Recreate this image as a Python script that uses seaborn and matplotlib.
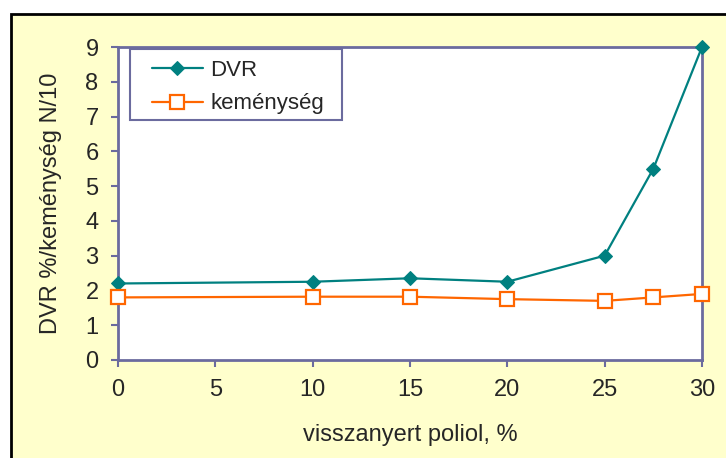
import numpy as np
import pandas as pd
import matplotlib
matplotlib.use("Agg")
import matplotlib.pyplot as plt
import matplotlib.patches as mpatches
import seaborn as sns

sns.set_style("white")
plt.rcParams["font.family"] = ["Liberation Sans", "DejaVu Sans"]

# data
poliol = [0, 10, 15, 20, 25, 27.5, 30]
dvr = [2.2, 2.25, 2.35, 2.25, 3.0, 5.5, 9.0]
kemenyseg = [1.8, 1.82, 1.82, 1.75, 1.7, 1.8, 1.9]
xticks = [0, 5, 10, 15, 20, 25, 30]
yticks = [0, 1, 2, 3, 4, 5, 6, 7, 8, 9]

axis_col = "#6B6B9E"
teal = "#008080"
orange = "#FF6600"

fig = plt.figure(figsize=(7.26, 4.58), dpi=100)
fig.patch.set_facecolor("white")
frame = mpatches.Rectangle((11 / 726, -0.05), 1.1, 1 - 14 / 458 + 0.05,
                           transform=fig.transFigure, facecolor="#FFFFCC",
                           edgecolor="black", linewidth=2, zorder=-10)
fig.add_artist(frame)

ax = fig.add_axes([118 / 726, 1 - 360 / 458, 584 / 726, 313 / 458])
ax.set_facecolor("white")

df = pd.DataFrame({"x": poliol, "DVR": dvr, "keménység": kemenyseg})
sns.lineplot(data=df, x="x", y="DVR", ax=ax, color=teal, marker="D",
             markersize=7, markeredgecolor=teal, linewidth=1.6, label="DVR",
             clip_on=False, zorder=3)
sns.lineplot(data=df, x="x", y="keménység", ax=ax, color=orange, marker="s",
             markersize=9.5, markerfacecolor="white", markeredgecolor=orange,
             markeredgewidth=1.6, linewidth=1.6, label="keménység",
             clip_on=False, zorder=3)

ax.set_xlim(0, 30)
ax.set_ylim(0, 9)
ax.set_xticks(xticks)
ax.set_yticks(yticks)
ax.set_xlabel("visszanyert poliol, %", fontsize=17)
ax.set_ylabel("DVR %/keménység N/10", fontsize=17)
ax.xaxis.set_label_coords(0.5, -0.205)
ax.yaxis.set_label_coords(-0.096, 0.5)
ax.tick_params(axis="both", labelsize=17, direction="out", length=5,
               width=1.5, color=axis_col, left=True, bottom=True)
ax.tick_params(axis="x", pad=9)
ax.tick_params(axis="y", pad=9)
for s in ax.spines.values():
    s.set_color(axis_col)
    s.set_linewidth(2)

# legend box drawn separately (wider side padding, like the original)
box = mpatches.Rectangle((0.0205, 0.7668), 0.3631, 0.2268, transform=ax.transAxes,
                         facecolor="white", edgecolor=axis_col, linewidth=1.5,
                         zorder=4)
ax.add_patch(box)
leg = ax.legend(loc="upper left", bbox_to_anchor=(0.058, 0.959), fontsize=16,
                frameon=False, handlelength=2.3, borderpad=0,
                labelspacing=0.57, handletextpad=0.32, borderaxespad=0)
leg.set_zorder(5)

plt.savefig("out.png", dpi=100)
plt.close()
